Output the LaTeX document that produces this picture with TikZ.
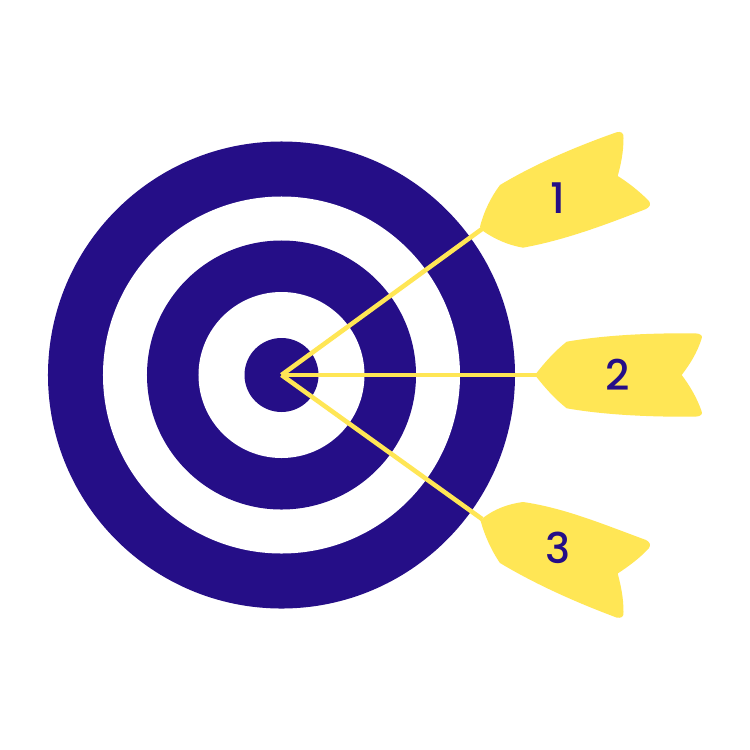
\documentclass[tikz,border=0pt]{standalone}
\usepackage{fontspec}
\setmainfont{Poppins}[UprightFont=* Medium]
\definecolor{navy}{HTML}{250E87}
\definecolor{dartyellow}{HTML}{FFE655}
\tikzset{
  ring/.style={circle,draw=none,fill=#1,minimum size=0pt,inner sep=0pt},
  shaft/.style={draw=dartyellow,line width=3.9pt},
  fletch/.style={fill=dartyellow,draw=none},
  num/.style={text=navy,font=\fontsize{36}{36}\selectfont,inner sep=0pt}
}
\begin{document}
\begin{tikzpicture}[x=0.03cm,y=-0.03cm]
\useasboundingbox (0,0) rectangle (750,750);
\fill[white] (0,0) rectangle (750,750);
\node[ring=navy,minimum size=14.01cm] (r1) at (281.5,375) {};
\node[ring=white,minimum size=10.71cm] (r2) at (281.5,375) {};
\node[ring=navy,minimum size=8.07cm] (r3) at (281.5,375) {};
\node[ring=white,minimum size=4.98cm] (r4) at (281.5,375) {};
\node[ring=navy,minimum size=2.22cm] (r5) at (281.5,375) {};
\coordinate (c) at (281.5,375);
\coordinate (t1) at (482,229);
\coordinate (t2) at (538,375);
\coordinate (t3) at (482,519);
\draw[shaft] (c) -- (t1);
\draw[shaft] (c) -- (t2);
\draw[shaft] (c) -- (t3);
% dart 1
\path[fletch] (480,226.7) .. controls (484,211) and (491,197) .. (500,185)
  .. controls (535,164) and (575,147) .. (616.5,132.3)
  .. controls (621,131) and (624,133) .. (623.5,138)
  .. controls (623.5,152) and (621,164) .. (617.7,176)
  .. controls (629,183) and (640,192) .. (649,201)
  .. controls (651,204) and (650,207) .. (646,209)
  .. controls (605,225) and (565,240) .. (523,247.7)
  .. controls (508,245) and (494,239) .. (481.7,230)
  -- cycle;
% dart 2
\path[fletch] (535,375) .. controls (545,362) and (555,351) .. (566.7,341.7)
  .. controls (605,335) and (650,333) .. (695,333.3)
  .. controls (701,333.5) and (703,336) .. (701.5,339)
  .. controls (697,353) and (690,364) .. (681.7,375)
  .. controls (690,386) and (697,398) .. (701.5,411)
  .. controls (703,414) and (701,416.5) .. (695,416.7)
  .. controls (650,417) and (605,415) .. (566.7,408.3)
  .. controls (555,399) and (545,388) .. (535,375)
  -- cycle;
% dart 3
\path[fletch] (480,518.5) .. controls (484,534) and (491,550) .. (500,563)
  .. controls (535,584) and (575,602) .. (616.5,617.5)
  .. controls (621,618.5) and (624,617) .. (623.5,612)
  .. controls (623.5,598) and (621,586) .. (617.7,573.5)
  .. controls (629,566) and (640,558) .. (649,548)
  .. controls (651,545) and (650,542) .. (646,540)
  .. controls (605,525) and (565,508) .. (523,502)
  .. controls (508,504) and (494,509) .. (481.7,519)
  -- cycle;
\node[num] (n1) at (558,198) {1};
\node[num] (n2) at (618,375) {2};
\node[num] (n3) at (558,548) {3};
\end{tikzpicture}
\end{document}
